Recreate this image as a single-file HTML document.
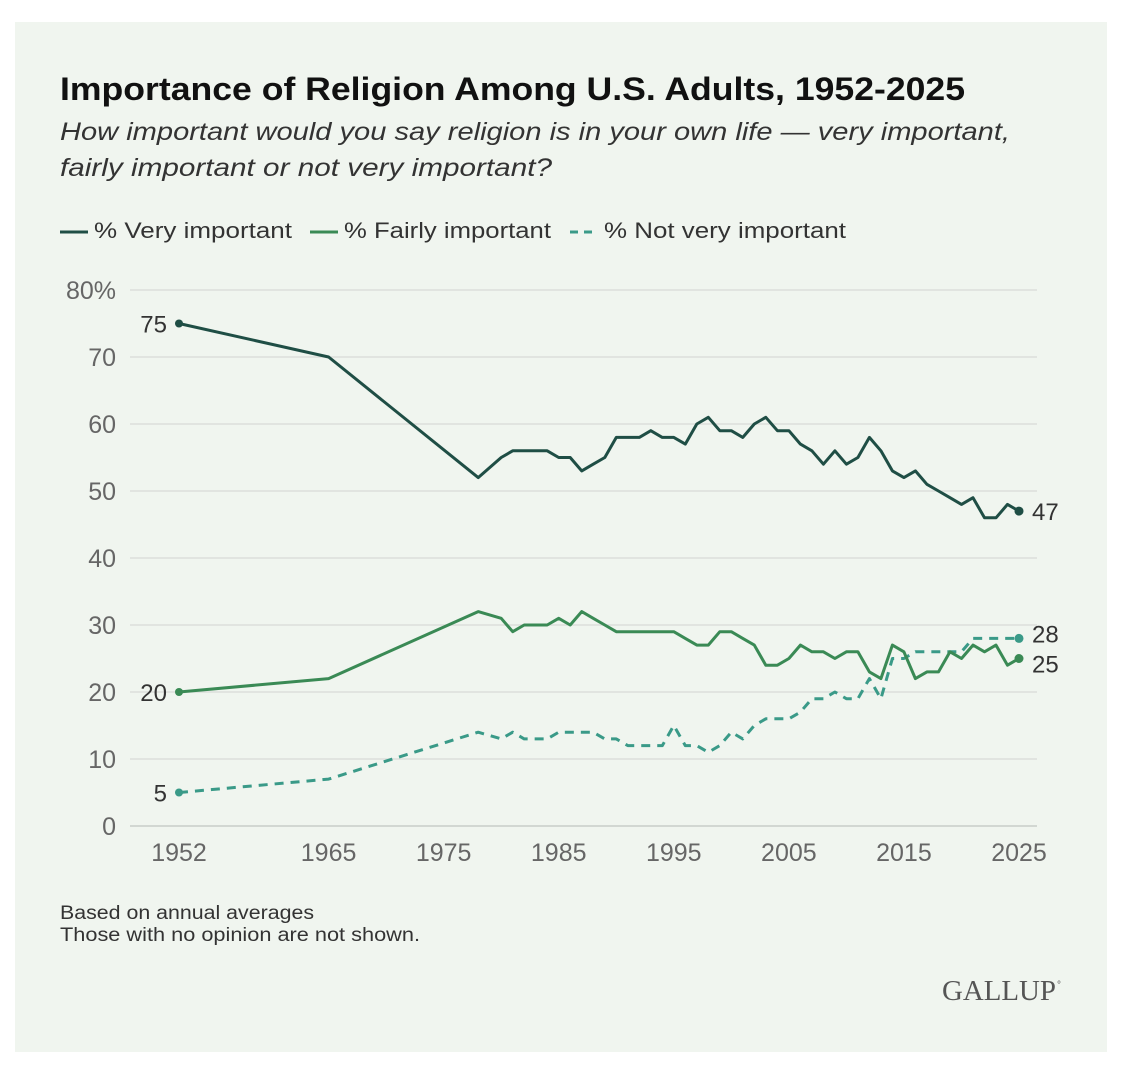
<!DOCTYPE html>
<html><head><meta charset="utf-8"><style>
html,body{margin:0;padding:0;background:#fff;}
svg{display:block;font-family:"Liberation Sans",sans-serif;}
</style></head><body>
<svg id="chart" width="1134" height="1074" viewBox="0 0 1134 1074">
<rect x="15" y="22" width="1092" height="1030" fill="#f0f5ef"/>
<text x="60" y="100" font-size="32" font-weight="bold" fill="#111" textLength="905" lengthAdjust="spacingAndGlyphs">Importance of Religion Among U.S. Adults, 1952-2025</text>
<text x="60" y="140" font-size="25" font-style="italic" fill="#333" textLength="950" lengthAdjust="spacingAndGlyphs">How important would you say religion is in your own life — very important,</text>
<text x="60" y="176" font-size="25" font-style="italic" fill="#333" textLength="492" lengthAdjust="spacingAndGlyphs">fairly important or not very important?</text>
<g>
<g><line x1="60" y1="232" x2="88" y2="232" stroke="#1f4e45" stroke-width="3"/><text x="94" y="238" font-size="22" fill="#333" textLength="198" lengthAdjust="spacingAndGlyphs">% Very important</text></g>
<g><line x1="310" y1="232" x2="338" y2="232" stroke="#3a8a55" stroke-width="3"/><text x="344" y="238" font-size="22" fill="#333" textLength="207" lengthAdjust="spacingAndGlyphs">% Fairly important</text></g>
<g><line x1="570" y1="232" x2="598" y2="232" stroke="#3a9a88" stroke-width="3" stroke-dasharray="8,6"/><text x="604" y="238" font-size="22" fill="#333" textLength="242" lengthAdjust="spacingAndGlyphs">% Not very important</text></g>
</g>
<g id="grid"></g>
<g id="yaxis"></g>
<g id="xaxis"></g>
<g id="series"></g>
<text x="60" y="919" font-size="19" fill="#333" textLength="254" lengthAdjust="spacingAndGlyphs">Based on annual averages</text>
<text x="60" y="941" font-size="19" fill="#333" textLength="360" lengthAdjust="spacingAndGlyphs">Those with no opinion are not shown.</text>
<text x="942" y="1000" font-size="28" fill="#555" textLength="114" lengthAdjust="spacingAndGlyphs" font-family="Liberation Serif, serif">GALLUP</text>
<text x="1057" y="988" font-size="10" fill="#555">°</text>
</svg>
<script>
const years = [1952,1965,1978,1980,1981,1982,1983,1984,1985,1986,1987,1988,1989,1990,1991,1992,1993,1994,1995,1996,1997,1998,1999,2000,2001,2002,2003,2004,2005,2006,2007,2008,2009,2010,2011,2012,2013,2014,2015,2016,2017,2018,2019,2020,2021,2022,2023,2024,2025];
const veryImportant = [75,70,52,55,56,56,56,56,55,55,53,54,55,58,58,58,59,58,58,57,60,61,59,59,58,60,61,59,59,57,56,54,56,54,55,58,56,53,52,53,51,50,49,48,49,46,46,48,47];
const fairlyImportant = [20,22,32,31,29,30,30,30,31,30,32,31,30,29,29,29,29,29,29,28,27,27,29,29,28,27,24,24,25,27,26,26,25,26,26,23,22,27,26,22,23,23,26,25,27,26,27,24,25];
const notVeryImportant = [5,7,14,13,14,13,13,13,14,14,14,14,13,13,12,12,12,12,15,12,12,11,12,14,13,15,16,16,16,17,19,19,20,19,19,22,19,25,25,26,26,26,26,26,28,28,28,28,28];
const yTicks = [0,10,20,30,40,50,60,70,80];
const xTicks = [1952,1965,1975,1985,1995,2005,2015,2025];
const NS='http://www.w3.org/2000/svg';
const X0=179,X1=1019,Y0=826,Y1=290;
function xs(y){return X0+(y-1952)*(X1-X0)/(2025-1952);}
function ys(v){return Y0-v*(Y0-Y1)/80;}
function mk(tag,attrs,parent){const e=document.createElementNS(NS,tag);for(const k in attrs)e.setAttribute(k,attrs[k]);parent.appendChild(e);return e;}
const grid=document.getElementById('grid'),ya=document.getElementById('yaxis'),xa=document.getElementById('xaxis'),ser=document.getElementById('series');
yTicks.forEach(t=>{
  const l=mk('line',{x1:130,x2:1037,y1:ys(t),y2:ys(t),stroke:t===0?'#c8cdc8':'#dcdfdb','stroke-width':1.5},grid);
  
  
  const tx=mk('text',{x:116,y:ys(t)+9,'font-size':25,fill:'#666','text-anchor':'end'},ya);
  tx.textContent=t===80?'80%':String(t);
  
  
});
xTicks.forEach(t=>{
  const tx=mk('text',{x:xs(t),y:861,'font-size':25,fill:'#666','text-anchor':'middle'},xa);
  tx.textContent=String(t);
  
  
});
function draw(vals,color,dash,name,endDy){
  const d=vals.map((v,i)=>(i?'L':'M')+xs(years[i]).toFixed(1)+','+ys(v).toFixed(1)).join(' ');
  const p=mk('path',{d:d,fill:'none',stroke:color,'stroke-width':3,'stroke-linejoin':'round'},ser);
  if(dash)p.setAttribute('stroke-dasharray','9,7');
  
  
  const n=vals.length;
  const c1=mk('circle',{cx:xs(years[0]),cy:ys(vals[0]),r:4,fill:color},ser);
  
  
  const c2=mk('circle',{cx:xs(years[n-1]),cy:ys(vals[n-1]),r:4.5,fill:color},ser);
  
  
  const t1=mk('text',{x:xs(years[0])-12,y:ys(vals[0])+9,'font-size':24,fill:'#333','text-anchor':'end'},ser);
  t1.textContent=String(vals[0]);
  
  
  const t2=mk('text',{x:xs(years[n-1])+13,y:ys(vals[n-1])+9+endDy,'font-size':24,fill:'#333'},ser);
  t2.textContent=String(vals[n-1]);
  
  
}
draw(notVeryImportant,'#3a9a88',true,'not-very-important',-5);
draw(fairlyImportant,'#3a8a55',false,'fairly-important',5);
draw(veryImportant,'#1f4e45',false,'very-important',0);
</script>
</body></html>
